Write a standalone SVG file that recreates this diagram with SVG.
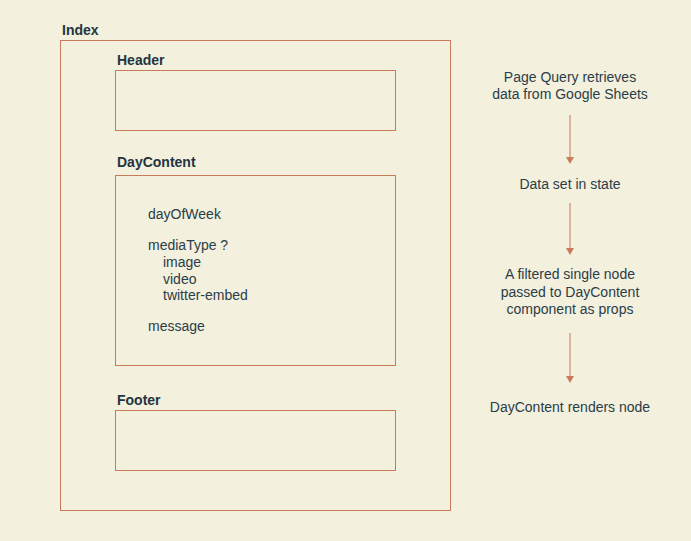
<svg xmlns="http://www.w3.org/2000/svg" width="691" height="541" viewBox="0 0 691 541">
<defs>
<style>
.box{fill:none;stroke:#c97b59;stroke-width:1}
.title{font-family:"Liberation Sans",Arial,sans-serif;font-size:14px;font-weight:bold;fill:#233540}
.txt{font-family:"Liberation Sans",Arial,sans-serif;font-size:14px;fill:#2b3d47}
.flow{font-family:"Liberation Sans",Arial,sans-serif;font-size:14px;fill:#2b3d47;text-anchor:middle}
.conn{stroke:#dcb49c;stroke-width:2;fill:none}
.head{fill:#c97b59}
</style>
</defs>
<rect width="691" height="541" fill="#f3f0de"/>
<g id="index">
<text class="title" x="62" y="35">Index</text>
<rect class="box" x="60.5" y="40.5" width="390" height="470"/>
</g>
<g id="header">
<text class="title" x="117" y="65">Header</text>
<rect class="box" x="115.5" y="70.5" width="280" height="60"/>
</g>
<g id="daycontent">
<text class="title" x="117" y="167">DayContent</text>
<rect class="box" x="115.5" y="175.5" width="280" height="190"/>
<text class="txt" x="148" y="219">dayOfWeek</text>
<text class="txt" x="148" y="250">mediaType ?</text>
<text class="txt" x="163" y="267">image</text>
<text class="txt" x="163" y="284">video</text>
<text class="txt" x="163" y="300">twitter-embed</text>
<text class="txt" x="148" y="331">message</text>
</g>
<g id="footer">
<text class="title" x="117" y="405">Footer</text>
<rect class="box" x="115.5" y="410.5" width="280" height="60"/>
</g>
<g id="step1">
<text class="flow" x="570" y="82">Page Query retrieves</text>
<text class="flow" x="570" y="99">data from Google Sheets</text>
</g>
<g id="step2">
<text class="flow" x="570" y="189">Data set in state</text>
</g>
<g id="step3">
<text class="flow" x="570" y="279">A filtered single node</text>
<text class="flow" x="570" y="297">passed to DayContent</text>
<text class="flow" x="570" y="314">component as props</text>
</g>
<g id="step4">
<text class="flow" x="570" y="412">DayContent renders node</text>
</g>
<g id="connectors">
<line class="conn" x1="570" y1="115" x2="570" y2="157"/>
<polygon class="head" points="566,157 574,157 570,164"/>
<line class="conn" x1="570" y1="203" x2="570" y2="248"/>
<polygon class="head" points="566,248 574,248 570,255"/>
<line class="conn" x1="570" y1="333" x2="570" y2="376"/>
<polygon class="head" points="566,376 574,376 570,383"/>
</g>
</svg>
